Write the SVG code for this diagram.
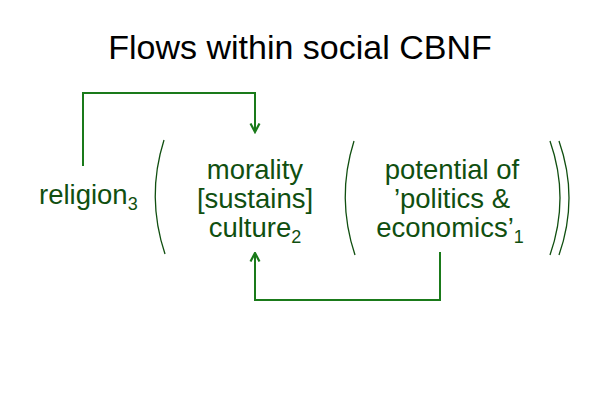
<svg xmlns="http://www.w3.org/2000/svg" width="600" height="400" viewBox="0 0 600 400">
<style>
.t{font-family:"Liberation Sans",Arial,sans-serif;font-size:27.5px;fill:#104f10;text-anchor:middle}
.title{font-family:"Liberation Sans",Arial,sans-serif;font-size:34px;fill:#000;text-anchor:middle}
.sub{font-size:18px}
.par{fill:none;stroke:#104f10;stroke-width:1.3}
.con{fill:none;stroke:#1a7a1a;stroke-width:2}
</style>
<defs>
<marker id="arr" viewBox="0 0 12 12" refX="10.5" refY="6" markerWidth="12" markerHeight="12" markerUnits="userSpaceOnUse" orient="auto">
<path d="M2,1.5 L10.5,6 L2,10.5" fill="none" stroke="#1a7a1a" stroke-width="2.2"/>
</marker>
</defs>
<rect width="600" height="400" fill="#fff"/>
<text class="title" x="300" y="59">Flows within social CBNF</text>
<g id="religion">
<text class="t" x="39" y="204" style="text-anchor:start">religion<tspan class="sub" dy="6">3</tspan></text>
</g>
<g id="culture">
<path class="par" d="M164,140 Q146,197 165,254"/>
<text class="t" x="255" y="179">morality</text>
<text class="t" x="255" y="208">[sustains]</text>
<text class="t" x="255" y="237">culture<tspan class="sub" dy="6">2</tspan></text>
</g>
<g id="politics">
<path class="par" d="M354,141 Q336,198 355,255"/>
<text class="t" x="452" y="179">potential of</text>
<text class="t" x="452" y="208">’politics &amp;</text>
<text class="t" x="450" y="237">economics’<tspan class="sub" dy="6">1</tspan></text>
<path class="par" d="M550,141 Q570,198 550,255"/>
<path class="par" d="M559,141 Q579,198 559,255"/>
</g>
<g id="connectors">
<polyline class="con" points="83,166 83,93 255,93 255,132" marker-end="url(#arr)"/>
<polyline class="con" points="440,252 440,300 255,300 255,253" marker-end="url(#arr)"/>
</g>
</svg>
